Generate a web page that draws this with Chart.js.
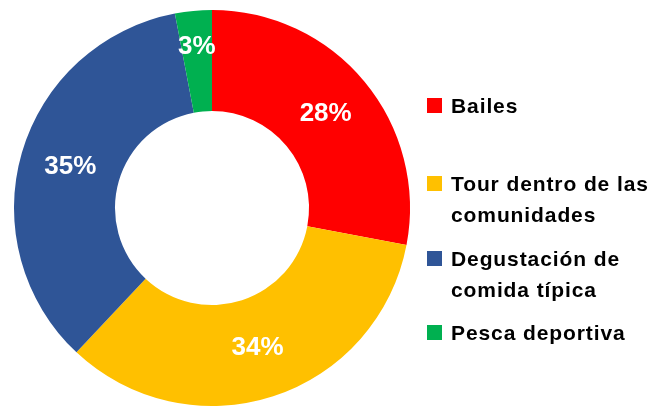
<!DOCTYPE html>
<html>
<head>
<meta charset="utf-8">
<script src="https://cdn.jsdelivr.net/npm/chart.js@4.4.1/dist/chart.umd.min.js"></script>
<style>
  html, body { margin: 0; padding: 0; background: #fff; }
  #wrap { position: relative; width: 654px; height: 407px; overflow: hidden; }
  #c { position: absolute; left: 0; top: 0; }
  .lg { position: absolute; left: 427px; width: 225px; font-family: "Liberation Sans", Arial, sans-serif;
        font-weight: bold; font-size: 21px; line-height: 31px; letter-spacing: 0.9px; color: #000; }
  .lg .sw { position: absolute; left: 0; top: 8px; width: 15px; height: 15px; }
  .lg .tx { margin-left: 24px; width: 205px; }
</style>
</head>
<body>
<div id="wrap">
  <canvas id="c" width="654" height="407"></canvas>
</div>
<script>
const categories = ["Bailes", "Tour dentro de las comunidades", "Degustación de comida típica", "Pesca deportiva"];
const values = [28, 34, 35, 3];
const valueLabels = ["28%", "34%", "35%", "3%"];
const colors = ["#FF0000", "#FFC000", "#2F5597", "#00B050"];

// HTML legend
const legendTops = [90, 168, 243, 317];
const wrap = document.getElementById('wrap');
categories.forEach((name, i) => {
  const d = document.createElement('div');
  d.className = 'lg';
  d.style.top = legendTops[i] + 'px';
  const sw = document.createElement('div');
  sw.className = 'sw';
  sw.style.background = colors[i];
  const tx = document.createElement('div');
  tx.className = 'tx';
  tx.textContent = name;
  d.appendChild(sw); d.appendChild(tx);
  wrap.appendChild(d);
});

const labelPlugin = {
  id: 'sliceLabels',
  afterDatasetsDraw(chart) {
    const ctx = chart.ctx;
    const meta = chart.getDatasetMeta(0);
    ctx.save();
    ctx.fillStyle = '#fff';
    ctx.font = 'bold 26px "Liberation Sans", Arial, sans-serif';
    ctx.textAlign = 'center';
    ctx.textBaseline = 'middle';
    meta.data.forEach((arc, i) => {
      const p = arc.tooltipPosition();
      let x = p.x, y = p.y;
      if (values[i] < 5) {
        // small slice: push label outward a bit
        const cx = arc.x, cy = arc.y;
        const k = 1.1;
        x = cx + (p.x - cx) * k;
        y = cy + (p.y - cy) * k;
      }
      ctx.fillText(valueLabels[i], x, y);
    });
    ctx.restore();
  }
};

new Chart(document.getElementById('c'), {
  type: 'doughnut',
  data: {
    labels: categories,
    datasets: [{
      data: values,
      backgroundColor: colors,
      borderWidth: 0
    }]
  },
  options: {
    responsive: false,
    animation: false,
    cutout: '49%',
    layout: { padding: { left: 14, top: 10, right: 244, bottom: 1 } },
    plugins: { legend: { display: false }, tooltip: { enabled: false } }
  },
  plugins: [labelPlugin]
});
</script>
</body>
</html>
